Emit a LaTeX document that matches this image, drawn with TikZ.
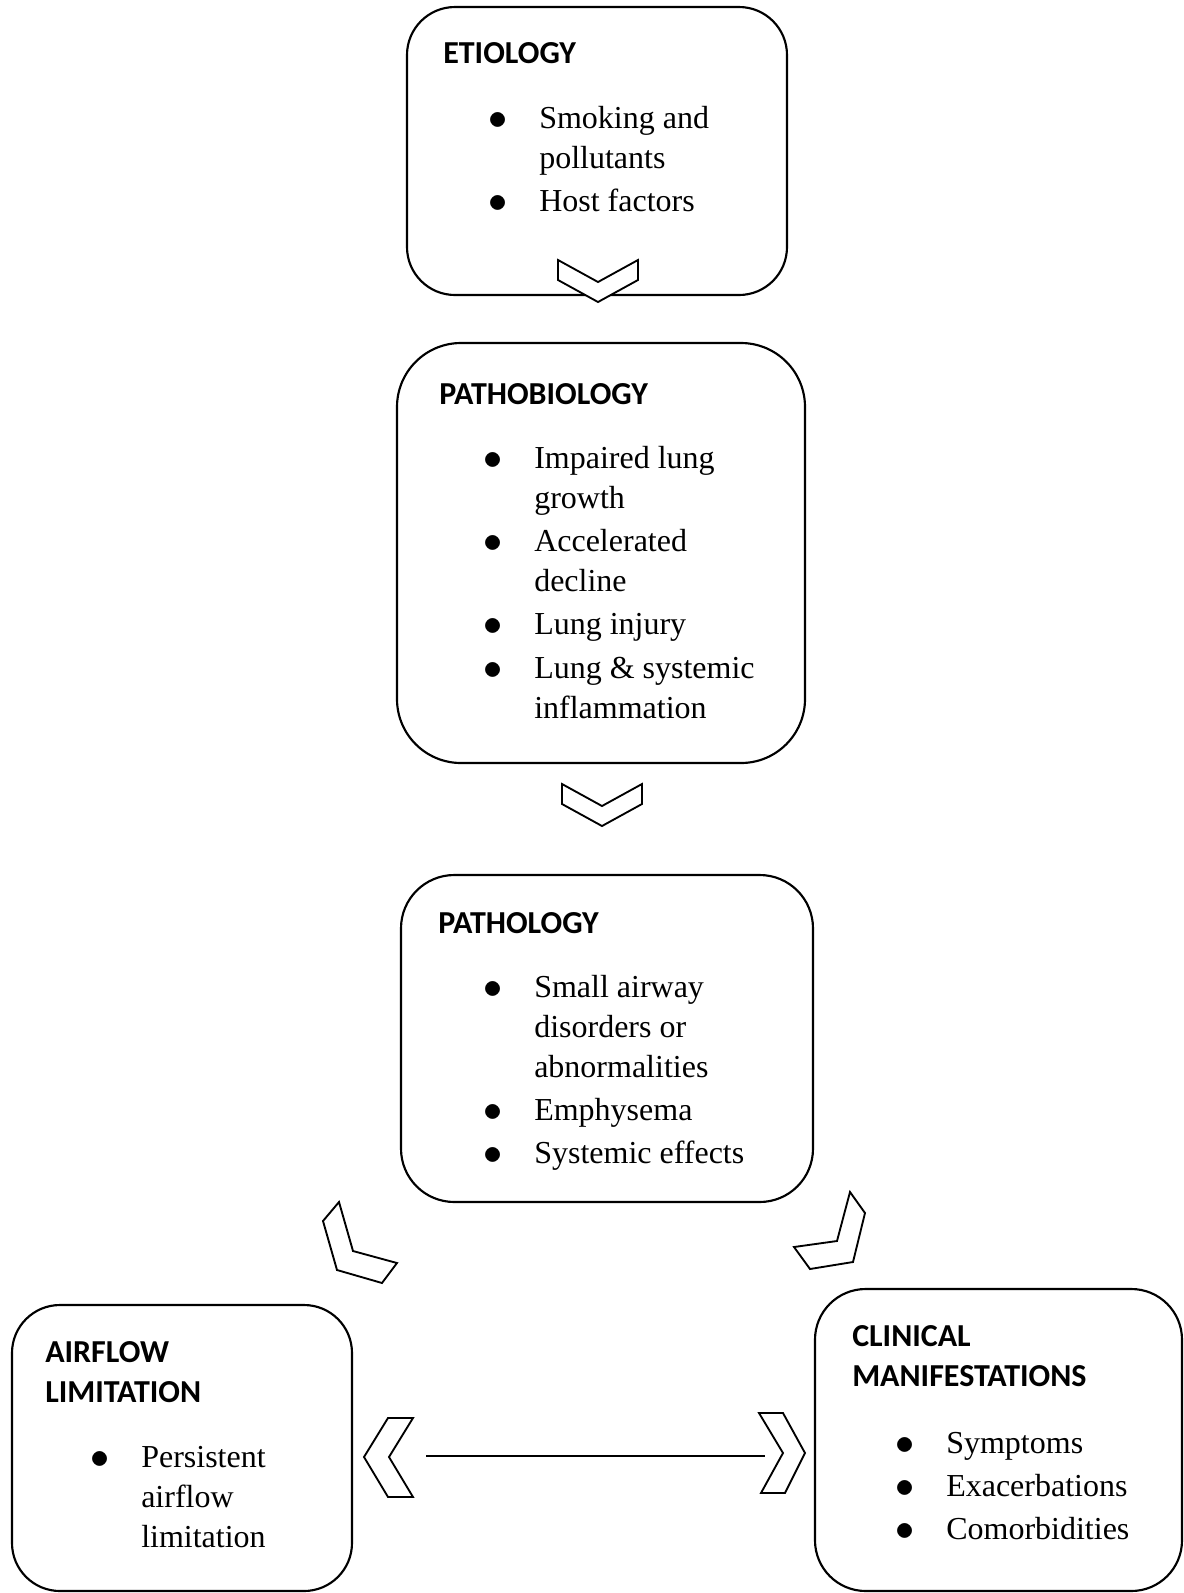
\documentclass[tikz,border=0pt]{standalone}
\usepackage{fontspec}
\setmainfont{Liberation Serif}
\newfontfamily\titlefont{Carlito}
\usetikzlibrary{fit}
\newcommand{\blt}{\makebox[12pt][c]{\raisebox{-0.8pt}{\scalebox{1.15}{$\bullet$}}}}

\begin{document}
\begin{tikzpicture}[x=0.75pt,y=-0.75pt,
  box/.style={draw,line width=1.6pt,inner sep=0pt},
  title/.style={anchor=base west,inner sep=0pt,font=\titlefont\bfseries\fontsize{24}{30}\selectfont},
  list/.style={anchor=base west,inner sep=0pt,font=\fontsize{24}{30}\selectfont},
  chevron/.style={draw,fill=white,line width=1.4pt,line join=miter}]

  \useasboundingbox (0,0) rectangle (1184,1593);

  % boxes
  \node[box,rounded corners=36pt,fit={(407,7) (787,295)}] (etiology) {};
  \node[box,rounded corners=48pt,fit={(397,343) (805,763)}] (pathobiology) {};
  \node[box,rounded corners=40pt,fit={(401,875) (813,1202)}] (pathology) {};
  \node[box,rounded corners=36pt,fit={(12,1305) (352,1591)}] (airflow) {};
  \node[box,rounded corners=38pt,fit={(815,1289) (1182,1591)}] (clinical) {};

  % titles
  \node[title] (etiologytitle) at (443,63) {ETIOLOGY};
  \node[title] (pathobiologytitle) at (439,404) {PATHOBIOLOGY};
  \node[title] (pathologytitle) at (438,933) {PATHOLOGY};
  \node[title] (airflowtitle) at (45,1362)
    {\begin{tabular}[t]{@{}l@{}}AIRFLOW\\LIMITATION\end{tabular}};
  \node[title] (clinicaltitle) at (852,1346)
    {\begin{tabular}[t]{@{}l@{}}CLINICAL\\MANIFESTATIONS\end{tabular}};

  % bullet lists
  \node[list] (etiologylist) at (490,128) {\begin{tabular}[t]{@{}c@{\hspace{24.75pt}}l@{}}
    \blt & Smoking and\\
         & pollutants\\[2.5pt]
    \blt & Host factors
  \end{tabular}};
  \node[list] (pathobiologylist) at (485,468) {\begin{tabular}[t]{@{}c@{\hspace{24.75pt}}l@{}}
    \blt & Impaired lung\\
         & growth\\[2.5pt]
    \blt & Accelerated\\
         & decline\\[2.5pt]
    \blt & Lung injury\\[2.5pt]
    \blt & Lung \& systemic\\
         & inflammation
  \end{tabular}};
  \node[list] (pathologylist) at (485,997) {\begin{tabular}[t]{@{}c@{\hspace{24.75pt}}l@{}}
    \blt & Small airway\\
         & disorders or\\
         & abnormalities\\[2.5pt]
    \blt & Emphysema\\[2.5pt]
    \blt & Systemic effects
  \end{tabular}};
  \node[list] (airflowlist) at (92,1467) {\begin{tabular}[t]{@{}c@{\hspace{24.75pt}}l@{}}
    \blt & Persistent\\
         & airflow\\
         & limitation
  \end{tabular}};
  \node[list] (clinicallist) at (897,1453) {\begin{tabular}[t]{@{}c@{\hspace{24.75pt}}l@{}}
    \blt & Symptoms\\[2.5pt]
    \blt & Exacerbations\\[2.5pt]
    \blt & Comorbidities
  \end{tabular}};

  % chevrons
  \foreach \cx/\cy in {598/280, 602/804}
    \draw[chevron] (\cx-40,\cy-20) -- (\cx-40,\cy) -- (\cx,\cy+22) -- (\cx+40,\cy)
      -- (\cx+40,\cy-20) -- (\cx,\cy+2) -- cycle;
  \draw[chevron] (339,1202) -- (323,1221) -- (337,1270) -- (382,1283) -- (397,1263) -- (353,1251) -- cycle;
  \draw[chevron] (850,1192) -- (865,1213) -- (853,1262) -- (810,1269) -- (794,1247) -- (837,1241) -- cycle;
  \draw[chevron] (413,1418) -- (388,1418) -- (364,1457) -- (388,1497) -- (413,1497) -- (389,1457) -- cycle;
  \draw[chevron] (759,1413) -- (783,1413) -- (805,1453) -- (785,1493) -- (761,1493) -- (783,1453) -- cycle;

  \coordinate (linestart) at (426,1456);
  \coordinate (lineend) at (765,1456);
  \draw[line width=1pt] (linestart) -- (lineend);
\end{tikzpicture}
\end{document}
